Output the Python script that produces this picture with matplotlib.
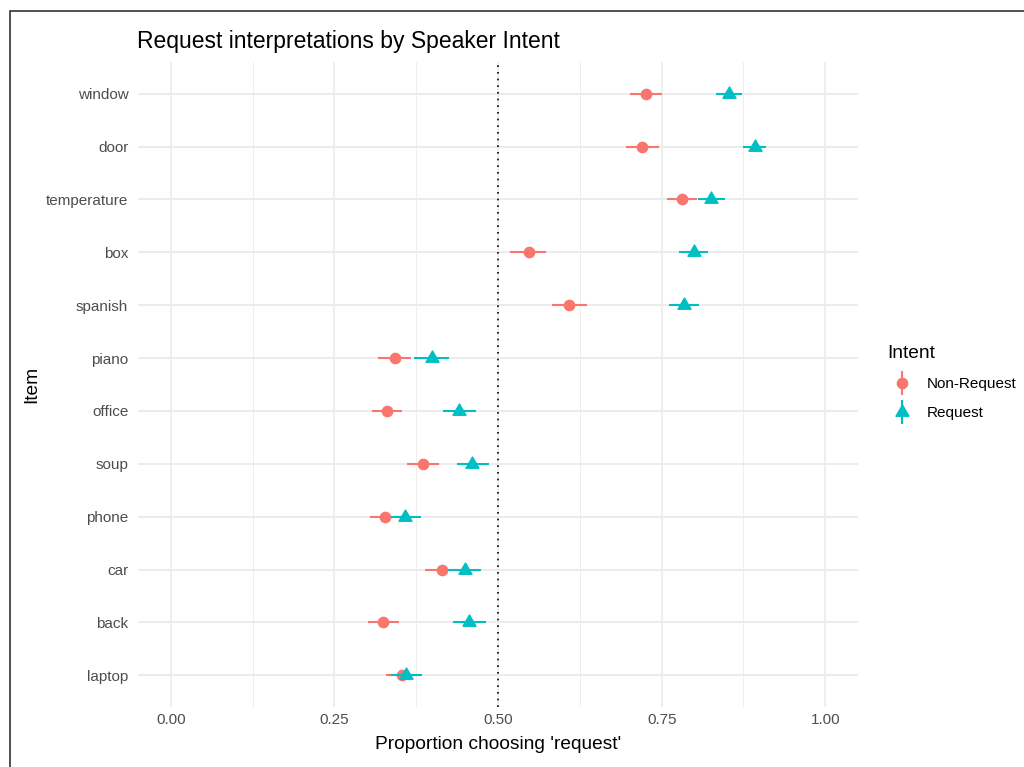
import matplotlib
matplotlib.use("Agg")
import matplotlib.pyplot as plt
from matplotlib.lines import Line2D
from matplotlib.legend_handler import HandlerTuple
from matplotlib.patches import Rectangle
from matplotlib.path import Path
import numpy as np

plt.rcParams['font.family'] = ['Liberation Sans', 'DejaVu Sans']

# Items from top to bottom as shown
items = ["window", "door", "temperature", "box", "spanish", "piano",
         "office", "soup", "phone", "car", "back", "laptop"]

# Non-Request: mean, lower, upper
nr_mean = [0.726, 0.720, 0.781, 0.547, 0.609, 0.342, 0.330, 0.386, 0.328, 0.414, 0.325, 0.353]
nr_low  = [0.702, 0.696, 0.758, 0.519, 0.583, 0.316, 0.307, 0.361, 0.304, 0.389, 0.302, 0.329]
nr_high = [0.751, 0.746, 0.804, 0.574, 0.636, 0.367, 0.354, 0.410, 0.350, 0.439, 0.349, 0.377]

# Request: mean, lower, upper
r_mean = [0.853, 0.892, 0.826, 0.799, 0.784, 0.399, 0.441, 0.461, 0.358, 0.449, 0.456, 0.360]
r_low  = [0.833, 0.875, 0.805, 0.777, 0.762, 0.372, 0.416, 0.437, 0.336, 0.423, 0.432, 0.336]
r_high = [0.873, 0.909, 0.847, 0.821, 0.807, 0.425, 0.466, 0.487, 0.382, 0.474, 0.482, 0.384]

x_ticks = [0.0, 0.25, 0.5, 0.75, 1.0]
x_tick_labels = ["0.00", "0.25", "0.50", "0.75", "1.00"]

RED = "#F8766D"
TEAL = "#00BFC4"
GRID = "#EBEBEB"
TXT = "#4D4D4D"

# equilateral triangle centred on its centroid (like R's pch 17)
TRI = Path([(0, 1), (-0.866, -0.5), (0.866, -0.5), (0, 1)],
           [Path.MOVETO, Path.LINETO, Path.LINETO, Path.CLOSEPOLY])

W, H = 1024, 767
fig = plt.figure(figsize=(W / 100, H / 100), dpi=100)
ax = fig.add_axes([138 / W, 1 - 707 / H, (858 - 138) / W, (707 - 62) / H])

n = len(items)
ypos = np.arange(n)[::-1] + 1  # window at top

# grid
for xv in [0.125, 0.375, 0.625, 0.875]:
    ax.axvline(xv, color=GRID, lw=0.6, zorder=0)
for xv in x_ticks:
    ax.axvline(xv, color=GRID, lw=1.2, zorder=0)
for yv in ypos:
    ax.axhline(yv, color=GRID, lw=1.3, zorder=0)

ax.axvline(0.5, color="black", lw=1.2, linestyle=(0, (1, 3)), zorder=1)

ax.hlines(ypos, nr_low, nr_high, color=RED, lw=1.5, zorder=2)
ax.plot(nr_mean, ypos, 'o', color=RED, markersize=7.4, zorder=3, linestyle='None')
ax.hlines(ypos, r_low, r_high, color=TEAL, lw=1.5, zorder=4)
ax.plot(r_mean, ypos, marker=TRI, color=TEAL, markersize=10.8, zorder=5, linestyle='None')

ax.set_xlim(-0.05, 1.05)
ax.set_ylim(0.4, n + 0.6)
ax.set_xticks(x_ticks)
ax.set_xticklabels(x_tick_labels)
ax.set_yticks(ypos)
ax.set_yticklabels(items)
ax.tick_params(length=0, labelsize=11, labelcolor=TXT)
ax.tick_params(axis='x', pad=4)
ax.tick_params(axis='y', pad=7)
for s in ax.spines.values():
    s.set_visible(False)

ax.set_xlabel("Proportion choosing 'request'", fontsize=13.75, labelpad=7)
ax.set_ylabel("Item", fontsize=13.75, labelpad=4)
ax.set_title("Request interpretations by Speaker Intent", fontsize=16.5,
             loc='left', x=-0.001, pad=10)

# legend
h_nr = (Line2D([], [], marker='|', markersize=17, markeredgewidth=1.5, color=RED, linestyle='None'),
        Line2D([], [], marker='o', markersize=7.4, color=RED, linestyle='None'))
h_r = (Line2D([], [], marker='|', markersize=17, markeredgewidth=1.5, color=TEAL, linestyle='None'),
       Line2D([], [], marker=TRI, markersize=10.8, color=TEAL, linestyle='None'))
leg = fig.legend([h_nr, h_r], ["Non-Request", "Request"], title="Intent",
                 handler_map={tuple: HandlerTuple(ndivide=1, pad=0)},
                 loc='upper left', bbox_to_anchor=(879.5 / W, 1 - 337 / H),
                 frameon=False, fontsize=11, title_fontsize=13.75,
                 alignment='left', borderpad=0.5, borderaxespad=0,
                 handlelength=2.0, handletextpad=0.6, labelspacing=1.0)

# outer frame
fig.add_artist(Rectangle((10 / W, -0.2), 1.5, 1.2 - 11 / H, transform=fig.transFigure,
                         fill=False, edgecolor="#333333", lw=1.2, clip_on=False))

fig.savefig("out.png", dpi=100)
